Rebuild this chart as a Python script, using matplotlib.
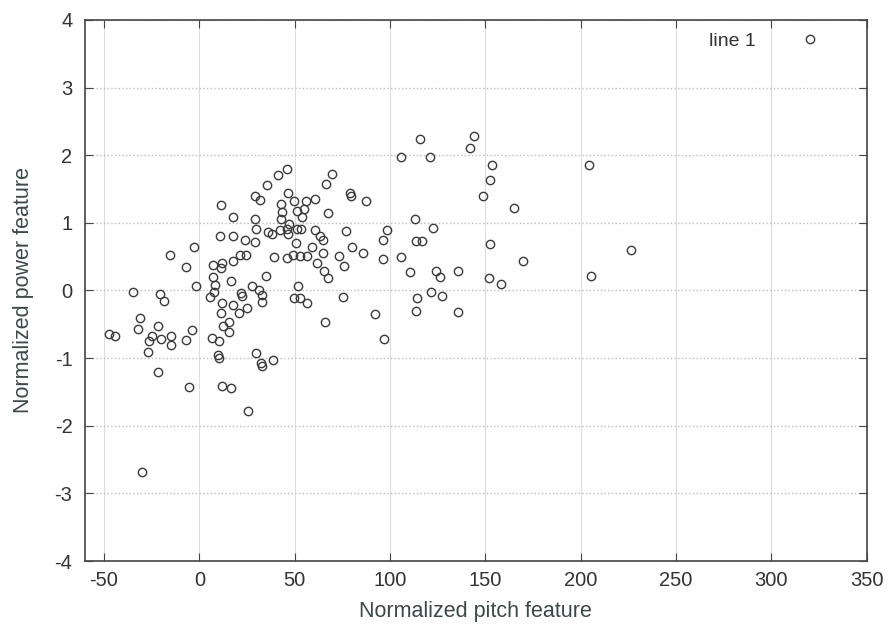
import numpy as np
import matplotlib.pyplot as plt

plt.rcParams['font.family'] = ['Liberation Sans', 'DejaVu Sans']
plt.rcParams['axes.unicode_minus'] = False

# values
pitch = [
    -15.2, -34.8, -20.8, -18.5, -30.9, -32.2, -21.8, -47.5, -44.4, -25.1,
    -26.4, -20.2, -15.0, -15.0, -27.2, -21.5, -30.1,
    46.0, 41.0, 69.8, 66.3, 35.7, 79.1, 79.3, 87.3, 29.1, 31.9,
    46.5, 49.4, 55.7, 60.6, 11.6, 42.7, 51.1, 54.8, 53.7, 67.5,
    17.4, 29.4, 43.2, 42.7, 46.8, 29.6, 35.9, 38.1, 42.2, 46.0,
    46.4, 51.3, 53.4, 60.6, 63.5, 64.6, 76.8, 10.6, 17.5, 23.7,
    29.4, 50.7, 59.3, 80.3, 85.9, -2.9, 21.2, 24.7, 38.9, 45.7,
    49.2, 52.7, 56.5, 64.9, 73.1, 17.7, 12.1, 7.0, 11.6, -7.1,
    61.6, 75.8, 65.3, 67.5, 34.7, 7.4, 16.8, 8.1, -1.7, 27.5,
    51.6, 7.6, 5.5, 21.7, 22.1, 31.3, 32.6, 33.1, 49.7, 52.7,
    56.5, 75.1, 11.9, 11.6, 17.7, 20.7, 25.2, 92.0, 66.0, 15.4,
    12.4, 15.6, -4.0, -7.0, 6.5, 10.2, 9.7, 10.2, 29.8, 32.2,
    32.7, 38.5, -5.7, 12.1, 16.5, 25.6,
    115.8, 144.1, 141.7, 105.5, 121.1, 153.6, 152.4, 148.5, 164.8, 112.9,
    122.6, 98.2, 96.1, 113.5, 116.7, 96.1, 105.5, 152.4, 169.5, 110.4,
    124.0, 126.1, 135.4, 152.0, 158.3, 121.3, 127.0, 114.1, 113.5, 135.4,
    96.8,
    204.2, 226.4, 205.5,
]
power = [
    0.52, -0.02, -0.05, -0.16, -0.40, -0.57, -0.53, -0.64, -0.68, -0.68,
    -0.75, -0.72, -0.67, -0.81, -0.91, -1.20, -2.69,
    1.79, 1.71, 1.72, 1.58, 1.56, 1.44, 1.40, 1.33, 1.40, 1.34,
    1.44, 1.33, 1.32, 1.36, 1.26, 1.28, 1.18, 1.21, 1.08, 1.14,
    1.09, 1.06, 1.16, 1.05, 0.98, 0.91, 0.86, 0.83, 0.89, 0.91,
    0.83, 0.91, 0.91, 0.89, 0.81, 0.74, 0.88, 0.81, 0.81, 0.75,
    0.71, 0.70, 0.64, 0.64, 0.55, 0.65, 0.52, 0.52, 0.49, 0.48,
    0.52, 0.51, 0.51, 0.56, 0.51, 0.44, 0.41, 0.37, 0.33, 0.35,
    0.41, 0.36, 0.29, 0.19, 0.22, 0.20, 0.14, 0.08, 0.07, 0.07,
    0.07, -0.02, -0.10, -0.03, -0.08, 0.00, -0.07, -0.17, -0.11, -0.11,
    -0.19, -0.09, -0.19, -0.33, -0.22, -0.33, -0.26, -0.35, -0.46, -0.46,
    -0.52, -0.62, -0.59, -0.73, -0.70, -0.75, -0.95, -1.00, -0.92, -1.07,
    -1.11, -1.03, -1.43, -1.41, -1.44, -1.78,
    2.24, 2.29, 2.11, 1.97, 1.97, 1.86, 1.64, 1.40, 1.22, 1.06,
    0.92, 0.90, 0.75, 0.73, 0.73, 0.47, 0.49, 0.69, 0.44, 0.27,
    0.29, 0.20, 0.29, 0.19, 0.10, -0.02, -0.08, -0.11, -0.31, -0.32,
    -0.71,
    1.85, 0.60, 0.22,
]

xticks = [-50, 0, 50, 100, 150, 200, 250, 300, 350]
yticks = [-4, -3, -2, -1, 0, 1, 2, 3, 4]

fig = plt.figure(figsize=(8.88, 6.32), dpi=100)
ax = fig.add_axes([0.0957, 0.1123, 0.8803, 0.8561])

ax.plot(pitch, power, 'o', markersize=6, markerfacecolor='none',
        markeredgecolor='#3a3a3a', markeredgewidth=1.0, label='line 1')

ax.set_xlim(-60, 350)
ax.set_ylim(-4, 4)
ax.set_xticks(xticks)
ax.set_yticks(yticks)
ax.xaxis.grid(True, color='#dddddd', linestyle='-', linewidth=0.8)
ax.yaxis.grid(True, color='#bdbdbd', linestyle=':', linewidth=1.0)
ax.tick_params(direction='in', top=True, right=True, length=6,
               labelsize=14.5, labelcolor='#333333', color='#444444')
ax.tick_params(axis='x', pad=7)
ax.tick_params(axis='y', pad=9)
for s in ax.spines.values():
    s.set_color('#444444')
    s.set_linewidth(1.2)

ax.set_xlabel('Normalized pitch feature', fontsize=15.5, color='#3a4a48', labelpad=8)
ax.set_ylabel('Normalized power feature', fontsize=15.5, color='#3a4a48', labelpad=15)

ax.legend(loc='upper right', bbox_to_anchor=(0.962, 0.991), borderaxespad=0,
          frameon=False, markerfirst=False, fontsize=14, handletextpad=1.8,
          labelcolor='#333333')

fig.savefig('out.png', dpi=100)
